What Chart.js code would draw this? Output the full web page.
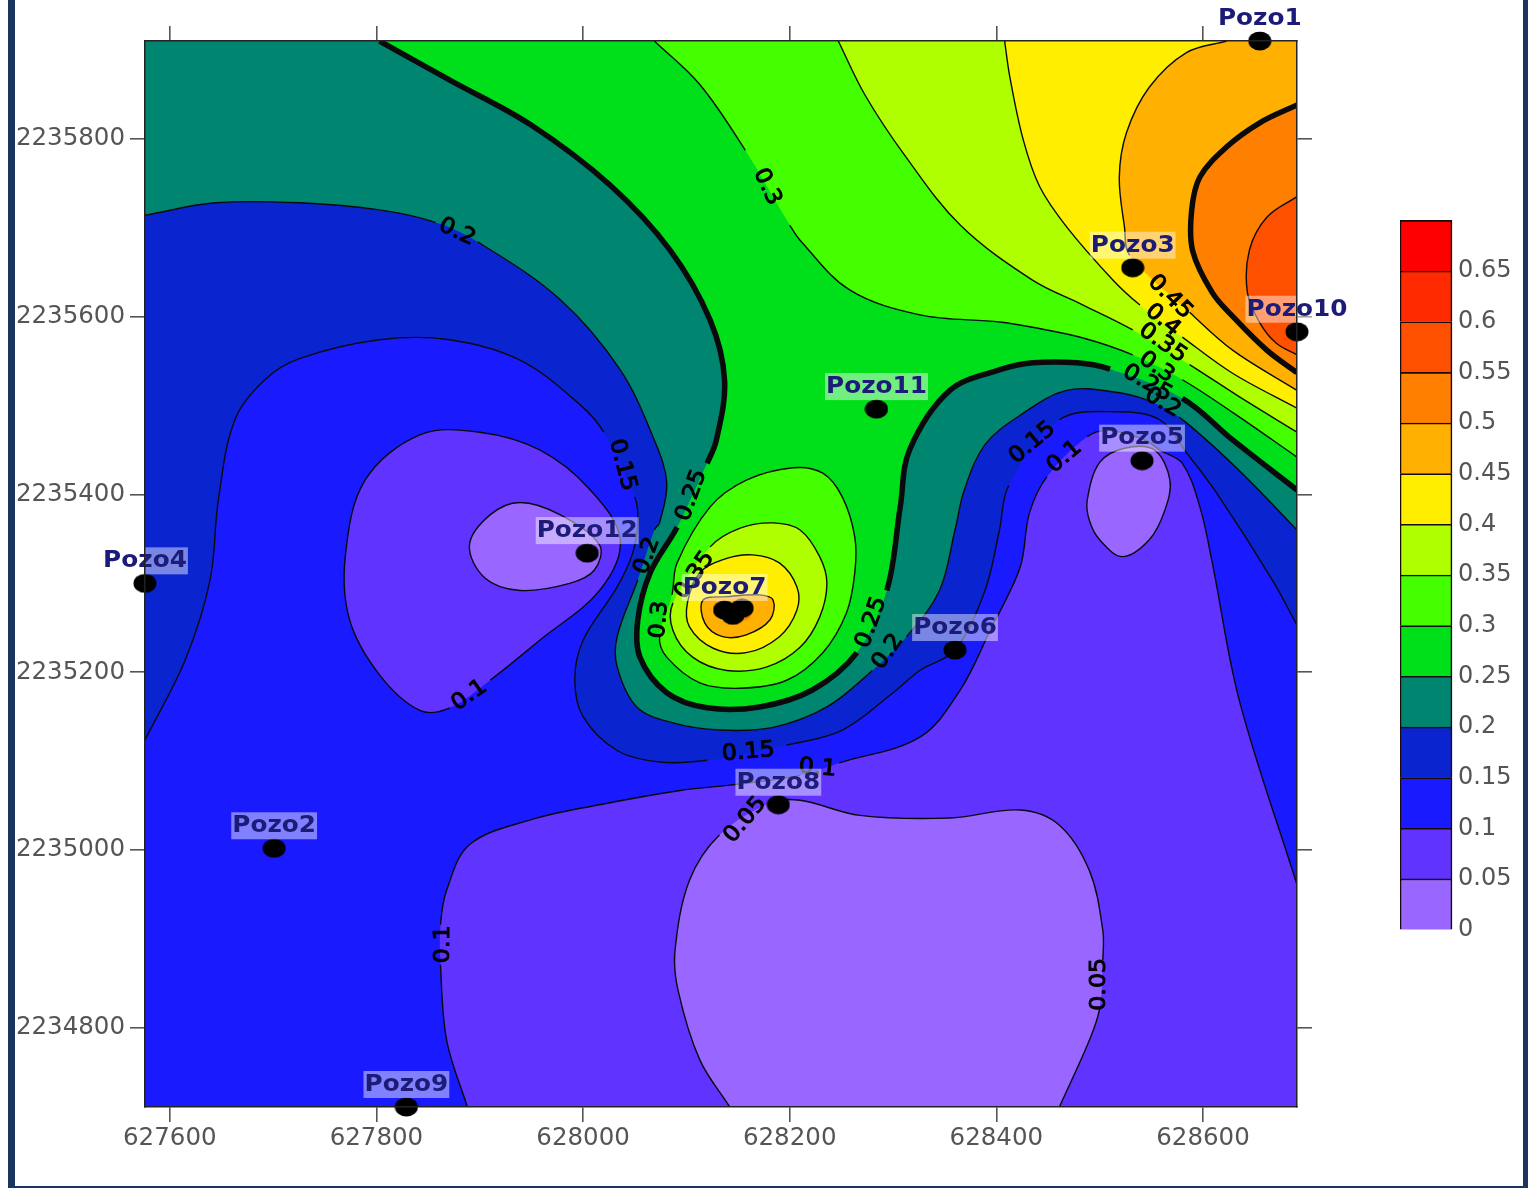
<!DOCTYPE html>
<html>
<head>
<meta charset="utf-8">
<title>Pozos</title>
<script src="https://cdn.jsdelivr.net/npm/chart.js@4"></script>
<style>
html,body{margin:0;padding:0;background:#fff;overflow:hidden;}
.frame{position:absolute;left:8px;top:-4px;width:1508px;height:1186px;border:solid #1a3560;border-width:4px 5px 2px 7px;}
canvas{filter:blur(0.5px);}
#map{position:absolute;left:0;top:0;}
#bar{position:absolute;left:1400px;top:200px;}
</style>
</head>
<body>
<div class="frame"></div>
<canvas id="map" width="1528" height="1188"></canvas>
<canvas id="bar" width="128" height="750"></canvas>
<script>
const xMin = 627576, xMax = 628691, yMin = 2234711, yMax = 2235910;
const xTicks = [627600,627800,628000,628200,628400,628600];
const yTicks = [2234800,2235000,2235200,2235400,2235600,2235800];
const levels = [0,0.05,0.1,0.15,0.2,0.25,0.3,0.35,0.4,0.45,0.5,0.55,0.6,0.65];
const levelColors = ["#9966ff","#6033ff","#1a1aff","#0a25d0","#008570","#00e01a","#44ff00","#b0ff00","#ffee00","#ffb000","#ff8000","#ff5000","#ff2a00","#ff0000"];

const wellNames = ["Pozo1","Pozo2","Pozo3","Pozo4","Pozo5","Pozo6","Pozo7","Pozo8","Pozo9","Pozo10","Pozo11","Pozo12"];
const wellX = [628655,627701,628532,627576,628541,628360,628137,628189,627829,628691,628284,628004];
const wellY = [2235910,2235002,2235655,2235300,2235438,2235225,2235270,2235051,2234711,2235583,2235496,2235334];
const pozo7ExtraX = [628145,628154];
const pozo7ExtraY = [2235264,2235272];

const labelText = ["0.3","0.2","0.15","0.25","0.2","0.3","0.35","0.25","0.2","0.15","0.1","0.1","0.05","0.1","0.05","0.15","0.1","0.45","0.4","0.35","0.3","0.25","0.2"];
const labelX = [628178,627878,628038,628105,628062,628074,628108,628279,628295,628160,628227,627890,628157,627865,628500,628435,628466,628568,628561,628561,628555,628546,628561];
const labelY = [2235746,2235695,2235433,2235399,2235331,2235259,2235309,2235256,2235223,2235110,2235092,2235174,2235034,2234894,2234849,2235458,2235442,2235622,2235596,2235570,2235543,2235525,2235503];
const labelAngle = [65,25,75,-70,-70,-85,-55,-70,-55,-5,5,-35,-50,-90,-90,-40,-40,45,40,35,35,30,30];

// null = break in the drawn line where a label sits
const line005 = [[628142,2234711],[628113,2234764],[628092,2234842],[628089,2234887],[628103,2234966],[628132,2235017],null,[628181,2235053],[628210,2235056],[628268,2235039],[628355,2235036],[628423,2235045],[628461,2235028],[628490,2234977],[628503,2234910],[628503,2234876],null,[628500,2234822],[628490,2234786],[628461,2234711]];
const line010 = [[627888,2234711],[627868,2234786],[627862,2234871],null,[627862,2234916],[627868,2234955],[627890,2235006],[627949,2235034],[628016,2235051],[628094,2235067],[628142,2235073],[628210,2235084],null,[628248,2235098],[628326,2235127],[628365,2235180],[628394,2235247],[628423,2235318],[628432,2235379],[628449,2235420],null,[628488,2235465],[628510,2235472],[628544,2235461],[628558,2235450],[628580,2235435],[628597,2235386],[628609,2235323],[628635,2235169],[628691,2234961]];
const line015 = [[627576,2235124],[627615,2235214],[627639,2235304],[627647,2235394],[627663,2235484],[627692,2235529],[627726,2235553],[627803,2235574],[627871,2235574],[627939,2235551],[627997,2235501],[628020,2235470],null,[628050,2235397],[628053,2235371],[628048,2235334],[628033,2235296],[628000,2235236],[627992,2235192],[628000,2235150],[628033,2235112],[628074,2235099],[628120,2235101],null,[628197,2235118],[628251,2235135],[628300,2235177],[628326,2235202],[628360,2235225],[628389,2235292],[628403,2235360],[628412,2235410],null,[628461,2235484],[628516,2235493],[628558,2235484],[628584,2235447],[628613,2235402],[628667,2235304],[628691,2235253]];
const line020 = [[627576,2235714],[627644,2235728],[627726,2235728],[627803,2235720],[627857,2235706],null,[627898,2235684],[627978,2235619],[628036,2235540],[628069,2235461],[628081,2235413],[628074,2235368],[628069,2235360],null,[628053,2235304],[628033,2235240],[628033,2235206],[628052,2235161],[628087,2235143],[628132,2235135],[628184,2235138],[628236,2235161],[628280,2235202],null,[628313,2235240],[628345,2235292],[628360,2235360],[628369,2235405],[628389,2235456],[628423,2235489],[628468,2235517],[628516,2235515],[628546,2235506],null,[628577,2235487],[628635,2235427],[628691,2235360]];
const line025 = [[627803,2235910],[627871,2235866],[627949,2235816],[628026,2235748],[628084,2235675],[628123,2235596],[628137,2235528],[628129,2235461],[628120,2235435],null,[628091,2235363],[628065,2235312],[628053,2235259],[628055,2235217],[628081,2235177],[628120,2235160],[628171,2235161],[628222,2235180],[628265,2235222],null,[628294,2235292],[628307,2235386],[628316,2235450],[628355,2235517],[628403,2235540],[628435,2235548],[628478,2235548],[628510,2235541],null,[628580,2235508],[628629,2235461],[628691,2235405]];
const line030 = [[628069,2235910],[628113,2235861],[628157,2235787],null,[628200,2235703],[628210,2235686],[628258,2235630],[628326,2235602],[628403,2235594],[628435,2235588],[628484,2235576],[628532,2235557],null,[628580,2235529],[628629,2235492],[628691,2235442]];
const line035 = [[628247,2235910],[628273,2235849],[628311,2235782],[628365,2235703],[628435,2235641],[628484,2235613],[628532,2235585],null,[628587,2235546],[628635,2235510],[628691,2235470]];
const line040 = [[628408,2235910],[628413,2235870],[628426,2235799],[628442,2235746],[628468,2235701],[628513,2235641],[628539,2235613],null,[628580,2235577],[628629,2235536],[628691,2235497]];
const line045 = [[628623,2235910],[628584,2235897],[628548,2235858],[628526,2235807],[628519,2235757],[628524,2235701],[628529,2235669],null,[628587,2235605],[628629,2235562],[628691,2235517]];
const line050 = [[628691,2235838],[628655,2235818],[628623,2235791],[628597,2235757],[628589,2235719],[628590,2235674],[628609,2235627],[628629,2235600],[628662,2235562],[628691,2235537]];
const line055 = [[628691,2235735],[628662,2235712],[628645,2235675],[628643,2235627],[628655,2235593],[628671,2235570],[628691,2235557]];

const ringLeft010 = [[627770,2235332],[627789,2235416],[627842,2235467],[627900,2235470],[627958,2235450],[628007,2235405],[628036,2235349],[628016,2235292],[627958,2235236],[627910,2235191],null,[627871,2235160],[627842,2235157],[627803,2235197],[627774,2235259]];
const ringLeft005 = [[627890,2235343],[627910,2235377],[627939,2235391],[627978,2235377],[628016,2235343],[628011,2235315],[627987,2235300],[627939,2235292],[627905,2235306]];
const ringRight005 = [[628488,2235394],[628500,2235436],[628524,2235452],[628553,2235450],[628568,2235416],[628563,2235382],[628548,2235349],[628522,2235330],[628500,2235349],[628490,2235371]];
const ringPeak030 = [[628203,2235430],[628232,2235424],[628251,2235397],[628263,2235352],[628263,2235312],[628255,2235267],[628232,2235222],[628197,2235191],[628152,2235182],[628113,2235188],[628081,2235217],[628074,2235240],null,[628086,2235287],[628091,2235323],[628123,2235386],[628158,2235416]];
const ringPeak035 = [[628184,2235368],[628210,2235360],[628229,2235330],[628236,2235300],[628229,2235262],[628210,2235228],[628178,2235206],[628139,2235202],[628106,2235217],[628087,2235247],[628087,2235278],null,[628123,2235341],[628152,2235362]];
const ringPeak040 = [[628164,2235332],[628190,2235323],[628207,2235296],[628207,2235270],[628190,2235240],[628158,2235222],[628126,2235227],[628103,2235251],[628101,2235278],[628113,2235312],[628139,2235328]];
const ringPeak045 = [[628116,2235281],[628139,2235285],[628171,2235287],[628184,2235281],[628181,2235259],[628158,2235242],[628135,2235240],[628118,2235255]];
const ringPeak050 = [[628150,2235283],[628163,2235277],[628161,2235261],[628148,2235259]];

const topLeft = [xMin,yMax], topRight = [xMax,yMax], bottomRight = [xMax,yMin], bottomLeft = [xMin,yMin];
const curve = 0.35;

let toPoints = (arr)=>arr.map(p=>({x:p[0],y:p[1]}));

// doubled points keep the spline from rounding off the corners
let openRegion = (line,corners)=>{
    let solid = line.filter(Boolean);
    let first = solid[0], last = solid[solid.length-1];
    let path = [first,...solid,last];
    corners.forEach(c=>path.push(c,c));
    path.push(first,first);
    return path;
};
// runs past the start so the join has proper tangents, the overlap is hidden
let closedLoop = (arr)=>[arr[0],null,...arr.slice(1),arr[0],arr[1],null,arr[2]];
let closedRegion = (arr)=>closedLoop(arr).filter(Boolean);

let fillSet = (path,color)=>({
    data:toPoints(path),
    showLine:true,
    fill:"shape",
    backgroundColor:color,
    borderWidth:0,
    borderColor:"transparent",
    pointRadius:0,
    tension:curve,
    clip:0
});
// same spline as the fill; only the pieces under a label go transparent
let strokeSet = (path,width)=>{
    let gaps = new Set();
    let solid = [];
    path.forEach(p=>{
        if(p) solid.push(p);
        else gaps.add(solid.length-1);
    });
    return {
        data:toPoints(solid),
        showLine:true,
        fill:false,
        borderColor:"#0a0a0a",
        borderWidth:width,
        pointRadius:0,
        tension:curve,
        clip:0,
        segment:{borderColor:(ctx)=>gaps.has(ctx.p0DataIndex)?"transparent":undefined}
    };
};

let wellDot = document.createElement("canvas");
wellDot.width = 24;
wellDot.height = 20;
let dotCtx = wellDot.getContext("2d");
dotCtx.ellipse(12,10,11.5,9.5,0,0,Math.PI*2);
dotCtx.fill();

let c = levelColors;
let paintOrder = [
    fillSet(openRegion([bottomLeft,topLeft],[topRight,bottomRight]),c[2]),
    fillSet(openRegion(line015,[topRight,topLeft]),c[3]),
    fillSet(openRegion(line020,[topRight,topLeft]),c[4]),
    fillSet(openRegion(line025,[topRight]),c[5]),
    fillSet(openRegion(line030,[topRight]),c[6]),
    fillSet(openRegion(line035,[topRight]),c[7]),
    fillSet(openRegion(line040,[topRight]),c[8]),
    fillSet(openRegion(line045,[topRight]),c[9]),
    fillSet(openRegion(line050,[]),c[10]),
    fillSet(openRegion(line055,[]),c[11]),
    fillSet(openRegion(line010,[bottomRight]),c[1]),
    fillSet(openRegion(line005,[]),c[0]),
    fillSet(closedRegion(ringLeft010),c[1]),
    fillSet(closedRegion(ringLeft005),c[0]),
    fillSet(closedRegion(ringRight005),c[0]),
    fillSet(closedRegion(ringPeak030),c[6]),
    fillSet(closedRegion(ringPeak035),c[7]),
    fillSet(closedRegion(ringPeak040),c[8]),
    fillSet(closedRegion(ringPeak045),c[9]),
    fillSet(closedRegion(ringPeak050),c[10]),
    strokeSet(line005,1.4),strokeSet(line010,1.4),strokeSet(line015,1.4),strokeSet(line020,1.4),
    strokeSet(line025,5.5),strokeSet(line030,1.4),strokeSet(line035,1.4),strokeSet(line040,1.4),
    strokeSet(line045,1.4),strokeSet(line050,5.5),strokeSet(line055,1.4),
    strokeSet(closedLoop(ringLeft010),1.4),strokeSet(closedLoop(ringLeft005),1.4),strokeSet(closedLoop(ringRight005),1.4),
    strokeSet(closedLoop(ringPeak030),1.4),strokeSet(closedLoop(ringPeak035),1.4),strokeSet(closedLoop(ringPeak040),1.4),strokeSet(closedLoop(ringPeak045),1.4),
    {
        data:[...wellX.map((x,i)=>({x:x,y:wellY[i]})),...pozo7ExtraX.map((x,i)=>({x:x,y:pozo7ExtraY[i]}))],
        pointStyle:wellDot,
        pointRadius:10,
        backgroundColor:"#000",
        borderWidth:0,
        clip:false
    }
];
// first dataset is drawn on top
paintOrder.reverse();

let textPlugin = {
    id:"mapText",
    afterDatasetsDraw(chart){
        let ctx = chart.ctx, sx = chart.scales.x, sy = chart.scales.y;
        ctx.save();
        ctx.textAlign = "center";
        ctx.textBaseline = "middle";
        ctx.font = "22px 'DejaVu Sans'";
        ctx.fillStyle = "#000";
        ctx.strokeStyle = "#000";
        ctx.lineWidth = 1;
        labelText.forEach((t,i)=>{
            ctx.save();
            ctx.translate(sx.getPixelForValue(labelX[i]),sy.getPixelForValue(labelY[i]));
            ctx.rotate(labelAngle[i]*Math.PI/180);
            ctx.scale(1.08,1);
            ctx.fillText(t,0,0);
            ctx.strokeText(t,0,0);
            ctx.restore();
        });
        ctx.font = "bold 22.5px 'DejaVu Sans'";
        wellNames.forEach((name,i)=>{
            let px = sx.getPixelForValue(wellX[i]), py = sy.getPixelForValue(wellY[i])-23;
            let w = ctx.measureText(name).width*1.1;
            ctx.fillStyle = "rgba(255,255,255,0.45)";
            ctx.fillRect(px-w/2-1,py-13,w+2,27);
            ctx.save();
            ctx.translate(px,py+1);
            ctx.scale(1.1,1);
            ctx.fillStyle = "#1c1c78";
            ctx.fillText(name,0,0);
            ctx.restore();
        });
        ctx.restore();
    }
};

let tickFont = {family:"'DejaVu Sans'",size:24.5};
let axisBorder = {display:true,color:"#222",width:1.5,z:1};
let fixedX = (scale)=>{scale.ticks = xTicks.map(v=>({value:v}));};
let fixedY = (scale)=>{scale.ticks = yTicks.map(v=>({value:v}));};
let axisGrid = {drawOnChartArea:false,drawTicks:true,tickLength:15,color:"#555",lineWidth:1.6};

new Chart(document.getElementById("map"),{
    type:"scatter",
    data:{datasets:paintOrder},
    plugins:[textPlugin],
    options:{
        responsive:false,
        animation:false,
        layout:{padding:0},
        events:[],
        plugins:{legend:{display:false},tooltip:{enabled:false}},
        scales:{
            x:{
                type:"linear",position:"bottom",min:xMin,max:xMax,
                afterBuildTicks:fixedX,
                afterFit:(s)=>{s.height = 81;},
                border:axisBorder,grid:axisGrid,
                ticks:{font:tickFont,color:"#555",padding:2,maxRotation:0,autoSkip:false,callback:(v)=>String(v)}
            },
            xTop:{
                type:"linear",position:"top",min:xMin,max:xMax,
                afterBuildTicks:fixedX,
                afterFit:(s)=>{s.height = 41;},
                border:axisBorder,grid:axisGrid,
                ticks:{display:false}
            },
            y:{
                type:"linear",position:"left",min:yMin,max:yMax,
                afterBuildTicks:fixedY,
                afterFit:(s)=>{s.width = 145;},
                border:axisBorder,grid:axisGrid,
                ticks:{font:tickFont,color:"#555",padding:5,autoSkip:false,callback:(v)=>String(v)}
            },
            yRight:{
                type:"linear",position:"right",min:yMin,max:yMax,
                afterBuildTicks:fixedY,
                afterFit:(s)=>{s.width = 231;},
                border:axisBorder,grid:axisGrid,
                ticks:{display:false}
            }
        }
    }
});

new Chart(document.getElementById("bar"),{
    type:"bar",
    data:{
        labels:[""],
        datasets:levels.map((lv,i)=>({
            data:[0.05],
            backgroundColor:levelColors[i],
            borderColor:"#1a0a0a",
            borderWidth:1.6,
            barPercentage:1,
            categoryPercentage:1,
            clip:false
        }))
    },
    options:{
        responsive:false,
        animation:false,
        events:[],
        layout:{padding:{top:18,bottom:20}},
        plugins:{legend:{display:false},tooltip:{enabled:false}},
        scales:{
            x:{display:false,stacked:true},
            y:{
                stacked:true,position:"right",min:0,max:0.7,
                afterBuildTicks:(s)=>{s.ticks = levels.map(v=>({value:v}));},
                afterFit:(s)=>{s.width = 76;},
                border:{display:false},
                grid:{display:false,drawTicks:false},
                ticks:{font:{family:"'DejaVu Sans'",size:24},color:"#555",padding:6,autoSkip:false,callback:(v)=>String(v)}
            }
        }
    }
});
</script>
</body>
</html>
